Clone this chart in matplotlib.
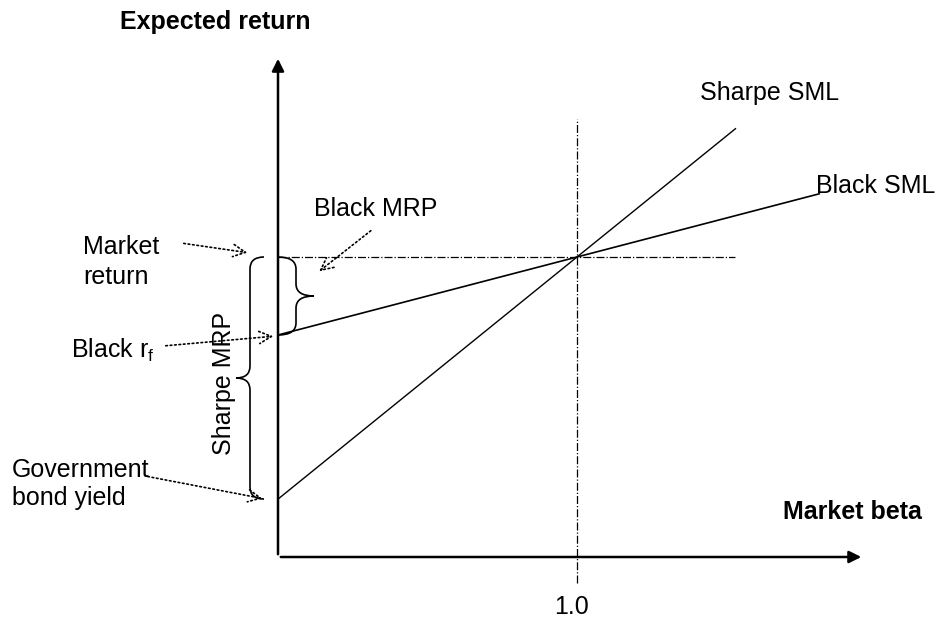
import numpy as np
import matplotlib.pyplot as plt
from matplotlib.path import Path
from matplotlib.patches import PathPatch

plt.rcParams['font.family'] = ['Liberation Sans', 'DejaVu Sans']

# values (market return = 1, beta of market = 1)
market_beta = 1.0
market_return = 1.0
black_rf = 0.74
gov_yield = 0.193
sharpe_end_beta = 1.53
black_end_beta = 1.81
axis_max_beta = 1.96
axis_max_ret = 1.67

# pixel layout -> data
X0, Y0, SX, SY = 278, 557, 299, 300
def px(x, y):
    return (x - X0) / SX, (Y0 - y) / SY

fig = plt.figure(figsize=(9.47, 6.2), dpi=100)
ax = fig.add_axes([0, 0, 1, 1])
ax.set_xlim(-X0 / SX, (947 - X0) / SX)
ax.set_ylim((Y0 - 620) / SY, Y0 / SY)
ax.axis('off')

# axes with arrows
ax.annotate('', xy=(axis_max_beta, 0), xytext=(0, 0),
            arrowprops=dict(arrowstyle='-|>', lw=1.8, color='black', mutation_scale=18))
ax.annotate('', xy=(0, axis_max_ret), xytext=(0, 0),
            arrowprops=dict(arrowstyle='-|>', lw=1.8, color='black', mutation_scale=18))

# security market lines
b = np.array([0, sharpe_end_beta])
ax.plot(b, gov_yield + (market_return - gov_yield) * b, color='black', lw=1)
b = np.array([0, black_end_beta])
ax.plot(b, black_rf + (market_return - black_rf) * b, color='black', lw=1.2)

# guide lines
ax.plot([0, sharpe_end_beta], [market_return, market_return], color='black', lw=0.9, ls='-.')
ax.plot([market_beta, market_beta], [px(0, 583)[1], px(0, 119)[1]], color='black', lw=0.9, ls='-.')

def brace(xs, ya, yb, d, w, lw=1.2):
    # vertical curly brace in pixels, spine at xs, tip pointing d (+1 right, -1 left)
    ym = (ya + yb) / 2
    r = 12
    pts = [(xs - d * w, ya), (xs, ya), (xs, ya + r), (xs, ya + r),
           (xs, ym - r), (xs, ym), (xs + d * w, ym),
           (xs, ym), (xs, ym + r), (xs, ym + r),
           (xs, yb - r), (xs, yb), (xs - d * w, yb)]
    codes = [Path.MOVETO, Path.CURVE3, Path.CURVE3, Path.LINETO,
             Path.LINETO, Path.CURVE3, Path.CURVE3,
             Path.CURVE3, Path.CURVE3, Path.LINETO,
             Path.LINETO, Path.CURVE3, Path.CURVE3]
    pts = [px(*p) for p in pts]
    ax.add_patch(PathPatch(Path(pts, codes), fill=False, lw=lw, color='black'))

brace(250, 257, 499, -1, 14)
brace(296, 257, 335, 1, 18)

# dotted pointers
def pointer(x0, y0, x1, y1):
    ax.annotate('', xy=px(x1, y1), xytext=px(x0, y0),
                arrowprops=dict(arrowstyle='->', ls=':', lw=1.2, color='black',
                                mutation_scale=22))

pointer(181, 243, 250, 253)
pointer(163, 346, 276, 336)
pointer(145, 476, 265, 499)
pointer(373, 229, 317, 273)

fs = 18
ax.text(*px(215, 22), 'Expected return', fontsize=fs, fontweight='bold', ha='center', va='center')
ax.text(*px(852, 512), 'Market beta', fontsize=fs, fontweight='bold', ha='center', va='center')
ax.text(market_beta - 0.02, px(0, 607)[1], '1.0', fontsize=fs, ha='center', va='center')
ax.text(*px(770, 93), 'Sharpe SML', fontsize=fs, ha='center', va='center')
ax.text(*px(876, 186), 'Black SML', fontsize=fs, ha='center', va='center')
ax.text(*px(376, 209), 'Black MRP', fontsize=fs, ha='center', va='center')
ax.text(*px(83, 262), 'Market\nreturn', fontsize=fs, ha='left', va='center', linespacing=1.3)
ax.text(*px(71, 350), 'Black r$_\\mathregular{f}$', fontsize=fs, ha='left', va='center')
ax.text(*px(12, 484), 'Government\nbond yield', fontsize=fs, ha='left', va='center', linespacing=1.2)
ax.text(*px(224, 383), 'Sharpe MRP', fontsize=fs, rotation=90, ha='center', va='center')

fig.savefig('out.png', dpi=100)
